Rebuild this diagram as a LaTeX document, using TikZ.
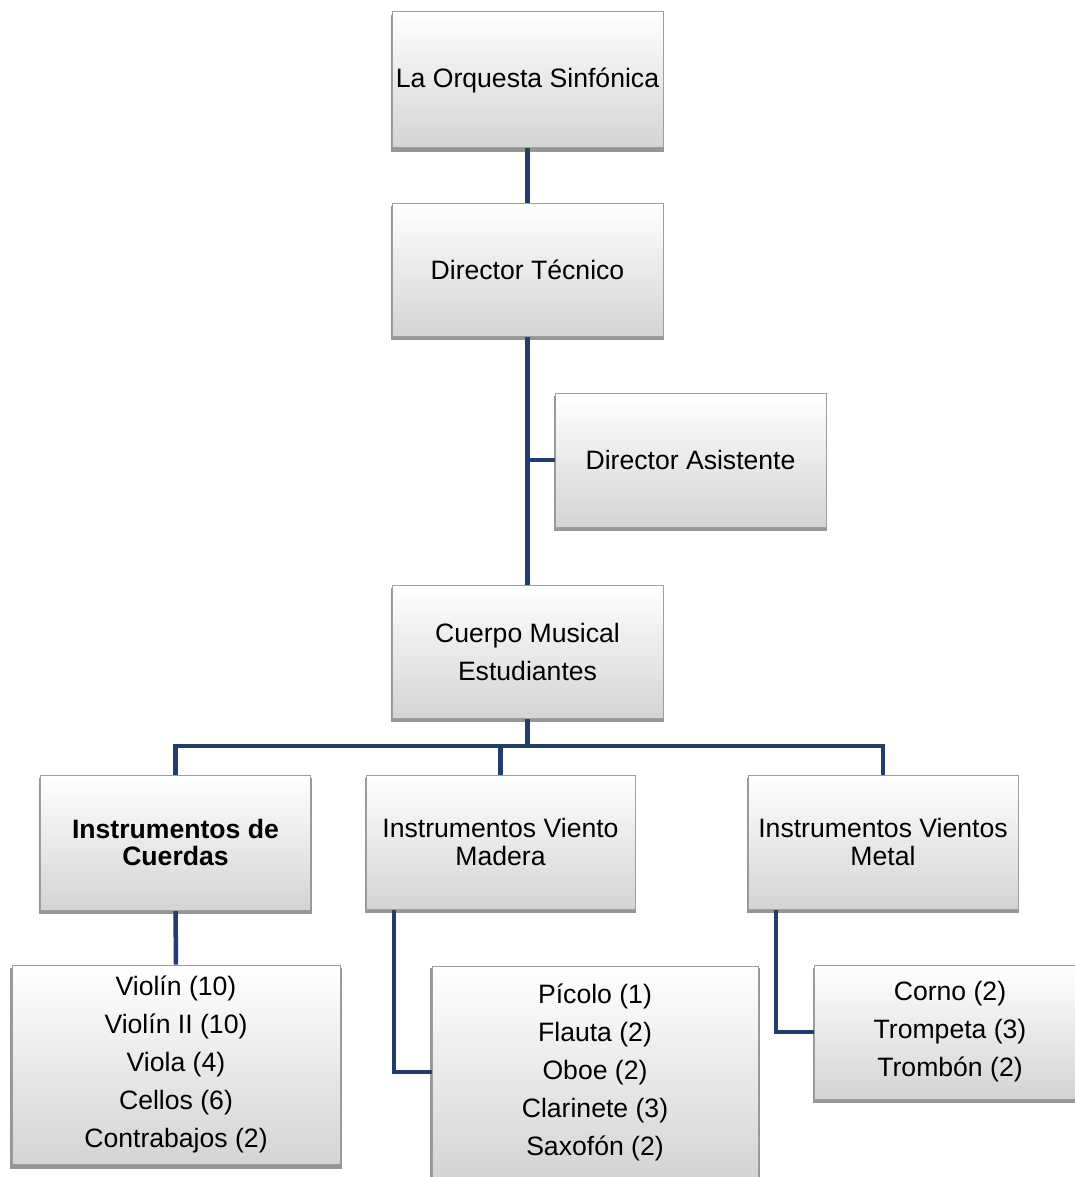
\documentclass[tikz,border=0pt]{standalone}
\usepackage{fontspec}
\setmainfont{Liberation Sans}
\usetikzlibrary{shadows,backgrounds,calc}
\definecolor{linkblue}{RGB}{31,62,110}
\tikzset{
  orgbox/.style={rectangle, inner sep=0pt, align=center, text=black,
    top color=white, bottom color=black!17, draw=black!38, line width=1pt,
    drop shadow={shadow xshift=0pt, shadow yshift=-3.5pt, shadow scale=1.01, opacity=0.55, fill=black!75},
    font=\fontsize{26.6}{38}\selectfont},
  tightbox/.style={orgbox, font=\fontsize{26.6}{27.5}\selectfont},
  link/.style={draw=linkblue, line width=4.5pt, line join=miter, line cap=butt}
}
\begin{document}
\begin{tikzpicture}[x=1pt,y=-1pt]
\useasboundingbox (0,0) rectangle (1074,1177);
\node[orgbox, minimum width=271pt, minimum height=136pt] (orq) at (527.5,80) {La Orquesta Sinfónica};
\node[orgbox, minimum width=271pt, minimum height=133pt] (dt) at (527.5,269.5) {Director Técnico};
\node[orgbox, minimum width=271pt, minimum height=134pt] (da) at (690.5,460) {Director Asistente};
\node[orgbox, minimum width=271pt, minimum height=133pt] (cm) at (527.5,651.5) {Cuerpo Musical\\Estudiantes};
\node[tightbox, minimum width=270pt, minimum height=135pt] (cu) at (175.5,842.5) {\bfseries Instrumentos de\\\bfseries Cuerdas};
\node[tightbox, minimum width=269pt, minimum height=134pt] (ma) at (500.5,842) {Instrumentos Viento\\Madera};
\node[tightbox, minimum width=270pt, minimum height=134pt] (me) at (883,842) {Instrumentos Vientos\\Metal};
\node[orgbox, minimum width=328pt, minimum height=199pt] (vl) at (176,1064.5) {Violín (10)\\Violín II (10)\\Viola (4)\\Cellos (6)\\Contrabajos (2)};
\node[orgbox, minimum width=326pt, minimum height=212pt] (pi) at (595,1072) {Pícolo (1)\\Flauta (2)\\Oboe (2)\\Clarinete (3)\\Saxofón (2)};
\node[orgbox, minimum width=272pt, minimum height=134pt] (co) at (950,1032) {Corno (2)\\Trompeta (3)\\Trombón (2)};
\coordinate (bus) at (527.5,746);
\begin{scope}[on background layer]
\draw[link] (orq.south) -- (dt.north);
\draw[link] (dt.south) -- (cm.north);
\draw[link] (dt.south |- da.west) -- (da.west);
\draw[link] (cm.south) -- (bus);
\draw[link] (cu.north) |- (bus) -| (me.north);
\draw[link] (ma.north) -- (ma.north |- bus);
\draw[link] (cu.south) -- (vl.north);
\draw[link] ([xshift=-106.5pt]ma.south) |- (pi.west);
\draw[link] ([xshift=-107pt]me.south) |- (co.west);
\end{scope}
\end{tikzpicture}
\end{document}
